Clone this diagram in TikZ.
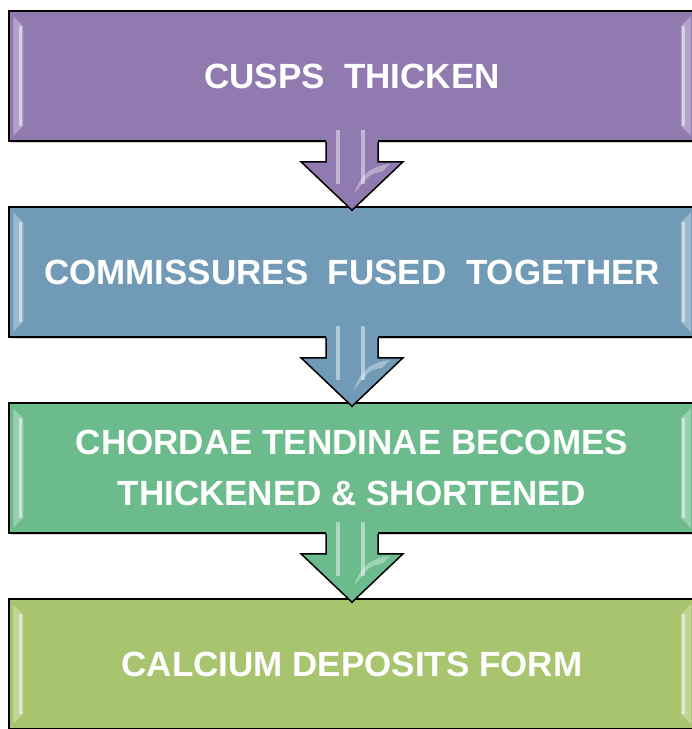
\documentclass[tikz,border=0pt]{standalone}
\usepackage{fontspec}
\setmainfont{Liberation Sans}
\usetikzlibrary{positioning,calc,shadows}

\definecolor{cuspcol}{RGB}{145,122,175}
\definecolor{commcol}{RGB}{112,154,182}
\definecolor{chordcol}{RGB}{108,187,141}
\definecolor{calccol}{RGB}{169,196,110}

% block arrow from the bottom of one box to the top of the next
\newcommand{\flowarrow}[3]{%
  \fill[#3] ($(#1.south)+(-26,14)$) -- ($(#1.south)+(-26,-20)$) -- ($(#1.south)+(-51,-20)$)
    -- ($(#2.north)+(0,-4)$) -- ($(#1.south)+(51,-20)$) -- ($(#1.south)+(26,-20)$) -- ($(#1.south)+(26,14)$) -- cycle;
  \draw[line width=1.5pt] ($(#1.south)+(-26,0)$) -- ($(#1.south)+(-26,-20)$) -- ($(#1.south)+(-51,-20)$)
    -- ($(#2.north)+(0,-4)$) -- ($(#1.south)+(51,-20)$) -- ($(#1.south)+(26,-20)$) -- ($(#1.south)+(26,0)$);
  \fill[white, opacity=0.45] ($(#1.south)+(-16,12)$) rectangle ($(#1.south)+(-12,-42)$);
  \fill[white, opacity=0.45] ($(#1.south)+(9,12)$) rectangle ($(#1.south)+(13,-42)$);
  \fill[white, opacity=0.35] ($(#1.south)+(2,-52)$) .. controls ($(#1.south)+(10,-30)$) and ($(#1.south)+(20,-25)$) .. ($(#1.south)+(38,-22)$) -- ($(#1.south)+(30,-30)$) .. controls ($(#1.south)+(18,-32)$) .. cycle;
}

\begin{document}
\begin{tikzpicture}[x=1pt,y=1pt,node distance=64.5pt,
  stage/.style={draw=black, line width=1.5pt, minimum width=686pt, minimum height=130pt,
    inner sep=0pt, text=white, align=center, font=\bfseries\fontsize{35}{51}\selectfont,
    drop shadow={shadow xshift=1.5pt, shadow yshift=-2pt, opacity=0.35}}]
  \clip (0,0) rectangle (692,-729);

  \node[stage, fill=cuspcol] (cusps) at (352,-76) {CUSPS\ \ THICKEN};
  \node[stage, fill=commcol, below=of cusps] (commiss) {COMMISSURES\ \ FUSED\ \ TOGETHER};
  \node[stage, fill=chordcol, below=of commiss] (chordae) {CHORDAE TENDINAE BECOMES\\THICKENED \& SHORTENED};
  \node[stage, fill=calccol, below=of chordae] (calcium) {CALCIUM DEPOSITS FORM};

  % bevel light on the side edges
  \foreach \n in {cusps,commiss,chordae,calcium} {
    \fill[white, opacity=0.3] ($(\n.north west)+(5,-6)$) -- ($(\n.north west)+(15,-16)$)
      -- ($(\n.south west)+(15,16)$) -- ($(\n.south west)+(5,6)$) -- cycle;
    \fill[white, opacity=0.5] ($(\n.north west)+(11,-16)$) rectangle ($(\n.south west)+(14,16)$);
    \fill[white, opacity=0.3] ($(\n.north east)+(-5,-6)$) -- ($(\n.north east)+(-15,-16)$)
      -- ($(\n.south east)+(-15,16)$) -- ($(\n.south east)+(-5,6)$) -- cycle;
    \fill[white, opacity=0.5] ($(\n.north east)+(-11,-16)$) rectangle ($(\n.south east)+(-14,16)$);
  }

  \flowarrow{cusps}{commiss}{cuspcol}
  \flowarrow{commiss}{chordae}{commcol}
  \flowarrow{chordae}{calcium}{chordcol}
\end{tikzpicture}
\end{document}
